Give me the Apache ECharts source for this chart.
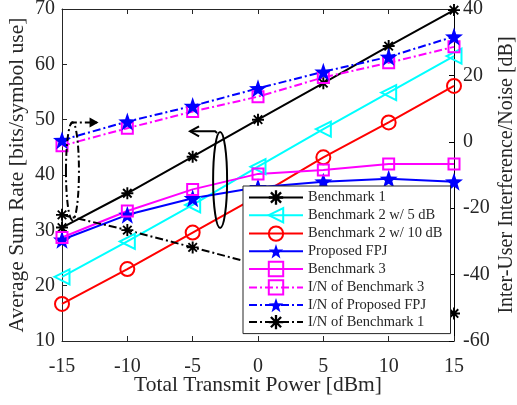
<!DOCTYPE html>
<html>
<head>
<meta charset="utf-8">
<script src="https://cdn.jsdelivr.net/npm/echarts@6/dist/echarts.min.js"></script>
<style>
  html, body { margin: 0; padding: 0; background: #fff; }
  #chart { width: 517px; height: 405px; }
</style>
</head>
<body>
<div id="chart"></div>
<script>
const powers = [-15, -10, -5, 0, 5, 10, 15];
const bench1 = [30.5, 36.7, 43.3, 50, 56.6, 63.3, 69.8];
const bench2Db5 = [21.6, 28, 34.6, 41.5, 48.3, 54.9, 61.5];
const bench2Db10 = [16.7, 23, 29.6, 36.2, 43.2, 49.5, 56.1];
const proposedFpj = [28.3, 32.8, 35.8, 37.8, 38.8, 39.3, 38.8];
const bench3 = [28.7, 33.5, 37.4, 40.2, 40.9, 42, 42];
const inBench3 = [-1.2, 4.1, 9.1, 13.6, 19.4, 23.8, 28.6];
const inFpj = [0.5, 6.1, 10.8, 16.1, 21.1, 25.6, 31.7];
const inBench1 = [-22, -26.6, -31.8, -37, -42, -47, -51.7];

const FONT = "'Liberation Serif', 'Times New Roman', serif";
const TXT = '#262626';
const ASTERISK = 'path://M-1.6,-10L1.6,-10L1.6,10L-1.6,10Z' +
  'M-10,-1.6L10,-1.6L10,1.6L-10,1.6Z' +
  'M5.94,-8.2L8.2,-5.94L-5.94,8.2L-8.2,5.94Z' +
  'M-8.2,-5.94L-5.94,-8.2L8.2,5.94L5.94,8.2Z';
const STAR = 'path://M0,-10L2.35,-3.24L9.51,-3.09L3.8,1.24L5.88,8.09L0,4L-5.88,8.09L-3.8,1.24L-9.51,-3.09L-2.35,-3.24Z';
const DASHDOT = [8, 3, 2, 3];

const pairs = ys => powers.map((x, i) => [x, ys[i]]);

const mkSeries = (name, ys, color, symbol, size, opts = {}) => ({
  name,
  type: 'line',
  data: pairs(ys),
  yAxisIndex: opts.right ? 1 : 0,
  clip: false,
  symbol,
  symbolSize: size,
  symbolRotate: opts.rotate || 0,
  lineStyle: { color, width: 2, type: opts.dash ? DASHDOT : 'solid' },
  itemStyle: opts.hollow
    ? { color: 'rgba(255,255,255,0)', borderColor: color, borderWidth: 2 }
    : { color, borderWidth: 0 },
  emphasis: { disabled: true },
  animation: false
});

const chart = echarts.init(document.getElementById('chart'));

const option = {
  animation: false,
  textStyle: { fontFamily: FONT },
  grid: { left: 62, right: 63, top: 9, bottom: 64, containLabel: false, outerBoundsMode: 'none' },
  legend: {
    orient: 'vertical',
    left: 243,
    top: 186,
    itemWidth: 54,
    itemHeight: 18,
    itemGap: 2,
    padding: [4, 8, 4, 5],
    backgroundColor: '#fff',
    borderColor: TXT,
    borderWidth: 1,
    textStyle: { fontFamily: FONT, fontSize: 14.5, color: TXT },
    data: ['Benchmark 1', 'Benchmark 2 w/ 5 dB', 'Benchmark 2 w/ 10 dB', 'Proposed FPJ',
      'Benchmark 3', 'I/N of Benchmark 3', 'I/N of Proposed FPJ', 'I/N of Benchmark 1']
  },
  xAxis: [{
    type: 'value', min: -15, max: 15, interval: 5,
    name: 'Total Transmit Power [dBm]', nameLocation: 'middle', nameGap: 33,
    nameMoveOverlap: false,
    nameTextStyle: { fontFamily: FONT, fontSize: 21.5, color: TXT },
    axisLine: { onZero: false, lineStyle: { color: TXT } },
    axisTick: { inside: true, length: 5, lineStyle: { color: TXT } },
    axisLabel: { fontFamily: FONT, fontSize: 20, color: TXT, margin: 16 },
    splitLine: { show: false }
  }, {
    type: 'value', min: -15, max: 15, interval: 5, position: 'top',
    axisLine: { onZero: false, lineStyle: { color: TXT } },
    axisTick: { inside: true, length: 5, lineStyle: { color: TXT } },
    axisLabel: { show: false },
    splitLine: { show: false }
  }],
  yAxis: [{
    type: 'value', min: 10, max: 70, interval: 10,
    name: 'Average Sum Rate [bits/symbol use]', nameLocation: 'middle', nameGap: 34,
    nameMoveOverlap: false,
    nameTextStyle: { fontFamily: FONT, fontSize: 21.5, color: TXT },
    axisLine: { show: true, onZero: false, lineStyle: { color: TXT } },
    axisTick: { show: true, inside: true, length: 5, lineStyle: { color: TXT } },
    axisLabel: { fontFamily: FONT, fontSize: 20, color: TXT, margin: 7 },
    splitLine: { show: false }
  }, {
    type: 'value', min: -60, max: 40, interval: 20, position: 'right',
    name: 'Inter-User Interference/Noise [dB]', nameLocation: 'middle', nameGap: 43,
    nameMoveOverlap: false,
    nameRotate: 90,
    nameTextStyle: { fontFamily: FONT, fontSize: 20, color: TXT },
    axisLine: { show: true, onZero: false, lineStyle: { color: '#000' } },
    axisTick: { show: true, inside: true, length: 5, lineStyle: { color: '#000' } },
    axisLabel: { fontFamily: FONT, fontSize: 20, color: TXT, margin: 9 },
    splitLine: { show: false }
  }],
  series: [
    mkSeries('Benchmark 1', bench1, '#000000', ASTERISK, 12),
    mkSeries('Benchmark 2 w/ 5 dB', bench2Db5, '#00ffff', 'triangle', 15, { hollow: true, rotate: 90 }),
    mkSeries('Benchmark 2 w/ 10 dB', bench2Db10, '#ff0000', 'circle', 14, { hollow: true }),
    mkSeries('Proposed FPJ', proposedFpj, '#0000ff', STAR, 18),
    mkSeries('Benchmark 3', bench3, '#ff00ff', 'rect', 11, { hollow: true }),
    mkSeries('I/N of Benchmark 3', inBench3, '#ff00ff', 'rect', 11, { hollow: true, dash: true, right: true }),
    mkSeries('I/N of Proposed FPJ', inFpj, '#0000ff', STAR, 18, { dash: true, right: true }),
    mkSeries('I/N of Benchmark 1', inBench1, '#000000', ASTERISK, 12, { dash: true, right: true })
  ]
};

chart.setOption(option);

// annotations: ellipses + arrows telling which axis each group belongs to
const px = (x, y) => chart.convertToPixel({ xAxisIndex: 0, yAxisIndex: 0 }, [x, y]);
const c1 = px(-2.9, 39.1);
const a1 = px(-5.2, 47.9);
const c2 = px(-14.2, 40.7);
const a2 = px(-12.2, 49.5);
const line = { stroke: '#000', lineWidth: 2, fill: null };
const dashed = { stroke: '#000', lineWidth: 2, fill: null, lineDash: [7, 3, 2, 3] };

chart.setOption({
  graphic: [
    { type: 'ellipse', shape: { cx: c1[0], cy: c1[1], rx: 7, ry: 48 }, style: line, z: 10 },
    { type: 'polyline', shape: { points: [[c1[0] - 3, c1[1] - 47], [c1[0] - 5, a1[1]], [a1[0], a1[1]]] }, style: line, z: 10 },
    { type: 'polyline', shape: { points: [[a1[0] + 9, a1[1] - 5], [a1[0], a1[1]], [a1[0] + 9, a1[1] + 5]] }, style: line, z: 10 },
    { type: 'ellipse', shape: { cx: c2[0], cy: c2[1], rx: 6.5, ry: 49 }, style: dashed, z: 10 },
    { type: 'polyline', shape: { points: [[c2[0] - 2, c2[1] - 47], [c2[0], a2[1]], [a2[0], a2[1]]] }, style: dashed, z: 10 },
    { type: 'polygon', shape: { points: [[a2[0] - 9, a2[1] - 5], [a2[0], a2[1]], [a2[0] - 9, a2[1] + 5]] }, style: { fill: '#000' }, z: 10 }
  ]
});
</script>
</body>
</html>
